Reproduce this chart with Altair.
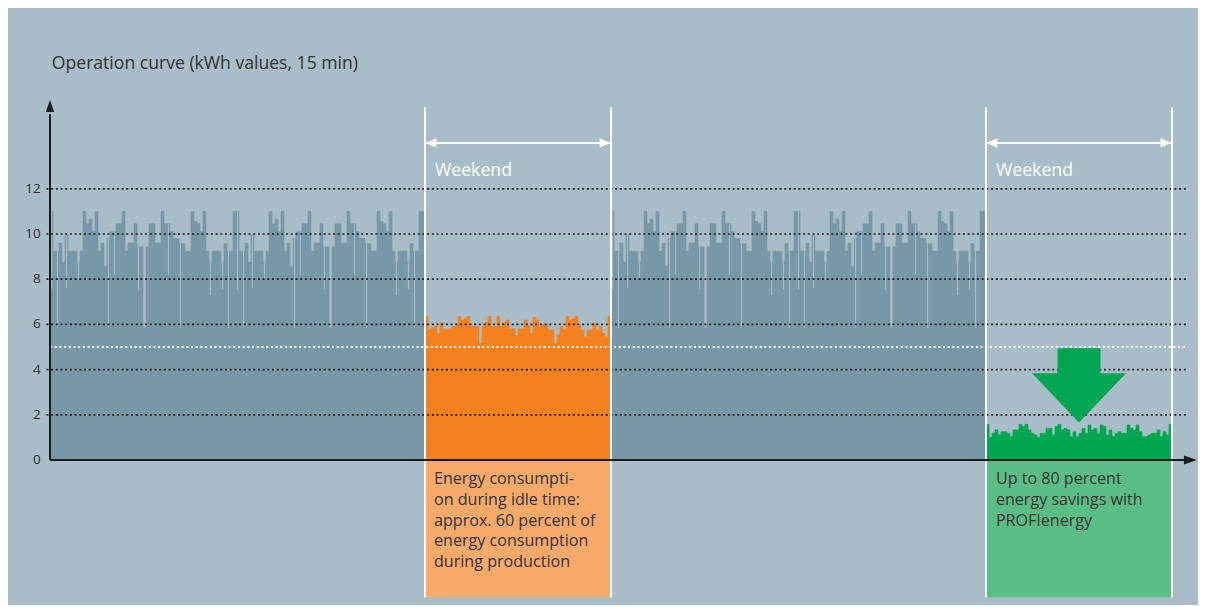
import altair as alt
import pandas as pd

# ---------------- data ----------------
# 15-min kWh values, one entry per slot (weekday blocks look identical in the picture)
weekday_values = [
    11.0, 9.24, 9.24, 9.6, 8.76, 9.95, 9.24, 9.24, 9.24, 8.76, 9.24, 11.0, 10.45, 10.66, 10.1, 11.0,
    9.24, 9.6, 8.57, 9.8, 10.1, 10.1, 10.45, 10.45, 11.0, 9.24, 9.6, 9.6, 10.45, 9.43, 9.43, 5.85,
    9.43, 10.45, 10.45, 9.6, 9.6, 11.0, 10.45, 10.45, 10.1, 9.8, 9.8, 9.57, 9.57, 9.24, 9.24, 11.0,
    10.55, 10.45, 10.1, 11.0, 9.24, 8.76, 9.24, 9.24, 9.24, 8.76, 9.57, 9.24, 9.24, 11.0,
    11.0, 9.24, 9.24, 9.6, 8.76, 9.95, 9.24, 9.24, 9.24, 8.76, 9.24, 11.0, 10.45, 10.66, 10.1, 11.0,
    9.24, 9.6, 8.57, 9.8, 10.1, 10.1, 10.45, 10.45, 11.0, 9.24, 9.6, 9.6, 10.45, 9.43, 9.43, 5.85,
    9.43, 10.45, 10.45, 9.6, 9.6, 11.0, 10.45, 10.45, 10.1, 9.8, 9.8, 9.57, 9.57, 9.24, 9.24, 11.0,
    10.55, 10.45, 10.1, 11.0, 9.24, 8.76, 9.24, 9.24, 9.24, 8.76, 9.57, 9.24, 9.24, 11.0,
    11.0,
]
# short dips inside a slot (slot index within a weekday block, lowest value)
dip_slots = [0, 2, 5, 9, 19, 21, 29, 39, 43, 53, 57, 59,
             62, 64, 67, 71, 81, 83, 91, 101, 105, 115, 119, 121]
dip_values = [7.55, 5.85, 7.6, 8.0, 5.85, 8.2, 7.55, 8.2, 5.85, 7.3, 7.55, 5.85,
              7.55, 5.85, 7.6, 8.0, 5.85, 8.2, 7.55, 8.2, 5.85, 7.3, 7.55, 5.85]

weekend_idle_values = [
    6.35, 5.78, 5.85, 5.9, 5.6, 6.07, 5.78, 5.78, 5.78, 5.9, 5.9, 6.35, 6.19, 6.25, 6.35, 5.9,
    5.9, 5.9, 5.15, 5.9, 6.1, 6.35, 5.9, 5.9, 6.35, 5.9, 6.1, 6.19, 5.8, 5.8, 5.5, 5.8,
    5.8, 6.19, 5.97, 5.6, 6.32, 6.19, 5.9, 6.0, 6.0, 5.75, 5.75, 5.15, 5.55, 5.9, 5.75, 6.35,
    6.19, 6.25, 6.35, 5.97, 5.75, 5.45, 5.75, 5.75, 6.07, 5.75, 5.9, 5.6, 5.45, 6.35,
]
weekend_profi_values = [
    1.58, 1.0, 1.18, 1.33, 1.11, 1.25, 1.25, 1.18, 1.03, 1.33, 1.33, 1.58, 1.48, 1.58, 1.33, 1.18,
    1.11, 1.0, 1.18, 1.18, 1.4, 1.4, 1.11, 1.48, 1.58, 1.33, 1.4, 1.33, 1.03, 1.25, 1.03, 1.18,
    1.4, 1.18, 1.55, 1.33, 1.4, 1.18, 1.55, 1.48, 1.11, 1.33, 1.03, 1.18, 1.25, 1.18, 1.18, 1.55,
    1.4, 1.33, 1.55, 1.25, 1.03, 1.03, 1.11, 1.18, 1.18, 1.33, 1.03, 1.25, 1.11, 1.58,
]

grid_values = [2, 4, 6, 8, 10, 12]
tick_labels = [0, 2, 4, 6, 8, 10, 12]
idle_level = 5
weekend_label = "Weekend"
title_text = "Operation curve (kWh values, 15 min)"
idle_text = "Energy consumpti-\non during idle time:\napprox. 60 percent of\nenergy consumption\nduring production"
profi_text = "Up to 80 percent\nenergy savings with\nPROFIenergy"

# ---------------- colours ----------------
BG = "#a8bdc7"
WEEKDAY = "#7897a7"
DIP = "#a3bac5"
ORANGE = "#f5821f"
ORANGE_BOX = "#f8aa6b"
GREEN = "#00a651"
GREEN_BOX = "#5abd85"
INK = "#1c1c1c"
TEXT = "#333333"
FONT = "Open Sans"

W, H = 1190, 597

# ---------------- build tables ----------------
n_wd = len(weekday_values)
n_we = len(weekend_idle_values)
starts = [0, n_wd, n_wd + n_we, 2 * n_wd + n_we]
end = 2 * n_wd + 2 * n_we


def block(values, start, kind):
    return pd.DataFrame({
        "x": [start + i for i in range(len(values))],
        "x2": [start + i + 1 for i in range(len(values))],
        "v": values,
        "kind": kind,
    })


bars = pd.concat([
    block(weekday_values, starts[0], "wd"),
    block(weekend_idle_values, starts[1], "idle"),
    block(weekday_values, starts[2], "wd"),
    block(weekend_profi_values, starts[3], "profi"),
])

dips = pd.DataFrame({
    "x": [s + d + 0.5 for s in (starts[0], starts[2]) for d in dip_slots],
    "lo": dip_values * 2,
    "hi": [weekday_values[d] for d in dip_slots] * 2,
})

xs = alt.Scale(domain=[-14, -14 + W / 3], nice=False, zero=False)
ys = alt.Scale(domain=[-6.416, -6.416 + H / 22.6], nice=False, zero=False)
X = lambda f: alt.X(f, type="quantitative", scale=xs, axis=None)
Y = lambda f: alt.Y(f, type="quantitative", scale=ys, axis=None)

# text boxes under the weekends
boxes = pd.DataFrame({"x": [starts[1], starts[3]], "x2": [starts[1] + n_we, end],
                      "y": [0, 0], "y2": [-6.07, -6.07], "c": [ORANGE_BOX, GREEN_BOX]})
box_layer = alt.Chart(boxes).mark_rect().encode(
    x=X("x"), x2="x2", y=Y("y"), y2="y2", color=alt.Color("c:N", scale=None))

kind_scale = alt.Scale(domain=["wd", "idle", "profi"], range=[WEEKDAY, ORANGE, GREEN])
bar_layer = alt.Chart(bars).mark_rect(strokeWidth=0.6).encode(
    x=X("x"), x2="x2", y=Y("v"), y2=alt.datum(0),
    color=alt.Color("kind:N", scale=kind_scale, legend=None),
    stroke=alt.Stroke("kind:N", scale=kind_scale, legend=None))

dip_layer = alt.Chart(dips).mark_rule(color=DIP, strokeWidth=1.2).encode(
    x=X("x"), y=Y("lo"), y2="hi")

grid = pd.DataFrame({"y": grid_values, "x": -1.2, "x2": end + 5})
grid_layer = alt.Chart(grid).mark_rule(color=INK, strokeWidth=1.7, strokeDash=[2, 2.7]).encode(
    x=X("x"), x2="x2", y=Y("y"))

idle_df = pd.DataFrame({"y": [idle_level], "x": 0, "x2": end + 5})
idle_layer = alt.Chart(idle_df).mark_rule(color="white", strokeWidth=2, strokeDash=[2, 2.7]).encode(
    x=X("x"), x2="x2", y=Y("y"))

vlines = pd.DataFrame({"x": [starts[1], starts[2], starts[3], end], "y": -6.07, "y2": 15.6})
vline_layer = alt.Chart(vlines).mark_rule(color="white", strokeWidth=2).encode(
    x=X("x"), y=Y("y"), y2="y2")

# "Weekend" span arrows
span = pd.DataFrame({"x": [starts[1], starts[3]], "x2": [starts[1] + n_we, end], "y": 14.03})
span_layer = alt.Chart(span).mark_rule(color="white", strokeWidth=2).encode(
    x=X("x"), x2="x2", y=Y("y"))
heads_l = pd.DataFrame({"x": [starts[1] + 2, starts[3] + 2], "y": 14.03})
heads_r = pd.DataFrame({"x": [starts[1] + n_we - 2, end - 2], "y": 14.03})
head_l_layer = alt.Chart(heads_l).mark_point(
    shape="M -1 0 L 1 -0.87 L 1 0.87 Z", filled=True, size=115, color="white", opacity=1,
    strokeWidth=0).encode(x=X("x"), y=Y("y"))
head_r_layer = alt.Chart(heads_r).mark_point(
    shape="M 1 0 L -1 -0.87 L -1 0.87 Z", filled=True, size=115, color="white", opacity=1,
    strokeWidth=0).encode(x=X("x"), y=Y("y"))

# green saving arrow
save = pd.DataFrame({"x": [starts[3] + n_we / 2], "y": [3.3]})
save_layer = alt.Chart(save).mark_point(
    shape="M -0.457 -0.79 L 0.457 -0.79 L 0.457 -0.26 L 1 -0.26 L 0 0.79 L -1 -0.26 L -0.457 -0.26 Z",
    filled=True, size=8836, color=GREEN, opacity=1, strokeWidth=0).encode(x=X("x"), y=Y("y"))

# axes with arrow heads
yaxis = pd.DataFrame({"x": [0], "y": [0], "y2": [15.3]})
yaxis_layer = alt.Chart(yaxis).mark_rule(color=INK, strokeWidth=2).encode(x=X("x"), y=Y("y"), y2="y2")
yhead = pd.DataFrame({"x": [0], "y": [15.66]})
yhead_layer = alt.Chart(yhead).mark_point(
    shape="M 0 -1 L 0.7 1 L -0.7 1 Z", filled=True, size=144, color=INK, opacity=1,
    strokeWidth=0).encode(x=X("x"), y=Y("y"))
xaxis = pd.DataFrame({"x": [0], "x2": [end + 5], "y": [0]})
xaxis_layer = alt.Chart(xaxis).mark_rule(color=INK, strokeWidth=2).encode(x=X("x"), x2="x2", y=Y("y"))
xhead = pd.DataFrame({"x": [end + 6.1], "y": [0]})
xhead_layer = alt.Chart(xhead).mark_point(
    shape="M 1 0 L -1 -0.7 L -1 0.7 Z", filled=True, size=161, color=INK, opacity=1,
    strokeWidth=0).encode(x=X("x"), y=Y("y"))

ticks = pd.DataFrame({"y": tick_labels, "x": -3.1, "t": [str(t) for t in tick_labels]})
tick_layer = alt.Chart(ticks).mark_text(align="right", baseline="middle", fontSize=13.5,
                                        font=FONT, color="#2e2e2e").encode(x=X("x"), y=Y("y"), text="t:N")

title_df = pd.DataFrame({"x": [0.6], "y": [17.5], "t": [title_text]})
title_layer = alt.Chart(title_df).mark_text(align="left", baseline="middle", fontSize=17.6,
                                            font=FONT, color=TEXT).encode(x=X("x"), y=Y("y"), text="t:N")

wk = pd.DataFrame({"x": [starts[1] + 3.3, starts[3] + 3.3], "y": 12.78, "t": weekend_label})
wk_layer = alt.Chart(wk).mark_text(align="left", baseline="middle", fontSize=17.7,
                                   font=FONT, color="white").encode(x=X("x"), y=Y("y"), text="t:N")

notes = pd.DataFrame({"x": [starts[1] + 3, starts[3] + 3.3], "y": -0.5, "t": [idle_text, profi_text]})
note_layer = alt.Chart(notes).mark_text(align="left", baseline="top", fontSize=16.1, lineHeight=20.7,
                                        lineBreak="\n", font=FONT, color=TEXT).encode(
    x=X("x"), y=Y("y"), text="t:N")

chart = alt.layer(
    box_layer, bar_layer, dip_layer, grid_layer, idle_layer, vline_layer,
    span_layer, head_l_layer, head_r_layer, save_layer,
    yaxis_layer, yhead_layer, xaxis_layer, xhead_layer,
    tick_layer, title_layer, wk_layer, note_layer,
).properties(
    width=W, height=H, background=BG, padding=0,
    autosize=alt.AutoSizeParams(type="none"),
).configure_view(stroke=None)

chart.save("out.html", embed_options={"renderer": "svg", "actions": False})
